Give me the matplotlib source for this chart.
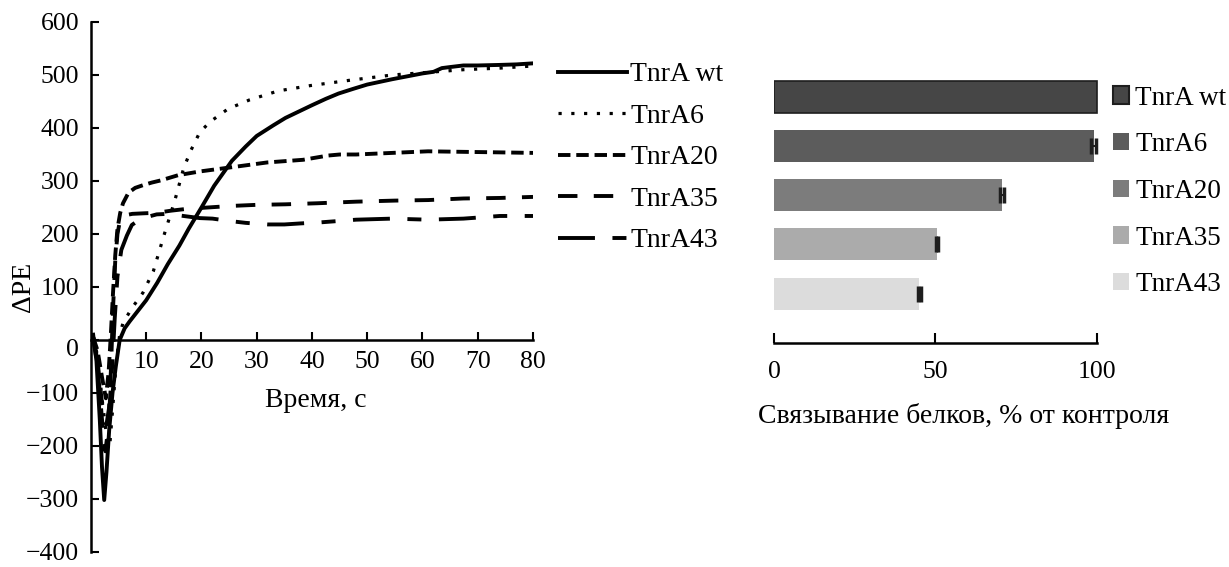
import numpy as np
import matplotlib.pyplot as plt
from matplotlib.patches import Patch
from matplotlib.transforms import ScaledTranslation

plt.rcParams['font.family'] = ['Liberation Serif', 'DejaVu Serif']
plt.rcParams['font.size'] = 18.5

# kinetic curves
t_wt = [0.4, 1.0, 1.6, 2.0, 2.4, 2.8, 3.3, 3.9, 4.5, 5.2, 6.1, 7.0, 8.5, 10, 12, 13.9, 16, 17.7, 20, 22.3,
        25.5, 28, 30, 33, 35.2, 38, 40, 42.5, 44.8, 47.5, 50, 54.5, 57, 60, 62, 63.5, 65, 67.4, 70, 73.9, 77, 80]
pe_wt = [10, -40, -150, -240, -302, -250, -170, -100, -50, 0, 22, 35, 55, 75, 108, 143, 178, 210, 250, 291,
         338, 365, 385, 405, 419, 433, 443, 455, 465, 474, 482, 492, 497, 503, 506, 513, 515, 518, 518, 519, 520, 522]

t_6 = [0.4, 1.2, 2.0, 2.8, 3.4, 4.0, 4.6, 5.2, 5.8, 7.4, 9.4, 11.3, 13.2, 15.2, 16.8, 18.1, 19.7, 21.6,
       24.8, 28.7, 33.9, 39.7, 46.8, 54.5, 61, 67.4, 74, 80]
pe_6 = [5, -30, -110, -180, -200, -120, -40, 10, 32, 60, 89, 130, 197, 264, 325, 358, 392, 412,
        436, 453, 470, 480, 490, 500, 505, 510, 513, 517]

t_20 = [0.4, 1.2, 2.0, 2.7, 3.2, 3.6, 4.0, 4.4, 4.8, 5.3, 5.8, 6.8, 8, 9.4, 11, 12.6, 15.8, 19.7, 25.5,
        31.9, 38.4, 42.9, 45, 48, 54.5, 61, 67.4, 74, 80]
pe_20 = [5, -20, -70, -110, -60, 10, 90, 160, 210, 240, 258, 278, 287, 292, 297, 301, 311, 318, 326,
         335, 340, 348, 350, 350, 353, 356, 355, 354, 353]

t_35 = [0.4, 1.2, 2.0, 2.6, 3.1, 3.6, 4.0, 4.4, 4.8, 5.3, 6.0, 7.5, 9.5, 11.9, 14.5, 17, 19.7, 25.5,
        30, 35.2, 41, 48, 55, 61, 67.4, 74, 80]
pe_35 = [5, -50, -150, -210, -170, -60, 60, 150, 200, 228, 235, 238, 239, 240, 244, 247, 249, 253,
         255, 256, 258, 261, 263, 264, 267, 268, 270]

t_43 = [0.4, 1.2, 2.0, 2.8, 3.4, 3.9, 4.3, 4.8, 5.5, 6.5, 7.4, 8.5, 9.4, 11.9, 13.9, 16, 19.7, 22, 25.5,
        28, 32, 35, 38, 41.6, 48, 54.5, 61, 67.4, 74, 80]
pe_43 = [5, -40, -120, -160, -120, -40, 40, 120, 170, 197, 217, 225, 230, 237, 238, 235, 230, 229, 224,
         221, 218, 218, 220, 222, 227, 229, 227, 229, 234, 234]

names = ['TnrA wt', 'TnrA6', 'TnrA20', 'TnrA35', 'TnrA43']

# binding, % of control
binding = [100, 99, 70.5, 50.5, 45]
binding_err = [0, 0.7, 0.6, 0.4, 0.4]
bar_colors = ['#464646', '#5c5c5c', '#7c7c7c', '#ababab', '#dcdcdc']

fig = plt.figure(figsize=(12.29, 5.67), dpi=100)

# ---- left panel: kinetics ----
ax1 = fig.add_axes([0.074, 0.0265, 0.3597, 0.9347])
styles = ['-', (0, (1, 3)), (0, (3.2, 1.5)), (0, (5, 4.2)), (0, (9.5, 4.5, 3.6, 4.5))]
widths = [2.8, 2.3, 2.8, 2.8, 2.8]
series = [(t_wt, pe_wt), (t_6, pe_6), (t_20, pe_20), (t_35, pe_35), (t_43, pe_43)]
lines = []
for (t, v), ls, lw, nm in zip(series, styles, widths, names):
    ln, = ax1.plot(t, v, color='black', lw=lw, ls=ls, label=nm)
    lines.append(ln)

ax1.set_xlim(0, 80)
ax1.set_ylim(-400, 600)
ax1.spines['top'].set_visible(False)
ax1.spines['right'].set_visible(False)
ax1.spines['bottom'].set_position(('data', 0))
for s in ['left', 'bottom']:
    ax1.spines[s].set_linewidth(1.8)
ax1.set_xticks(range(10, 81, 10))
ax1.set_yticks(range(-400, 601, 100))
ax1.tick_params(axis='both', direction='in', width=1.5, length=6)
ax1.tick_params(axis='x', pad=8)
ax1.tick_params(axis='y', pad=8.5)
# the "0" label sits a bit below the x axis line
zero_lab = ax1.yaxis.get_major_ticks()[4].label1
zero_lab.set_transform(zero_lab.get_transform() + ScaledTranslation(0, -8 / 100, fig.dpi_scale_trans))
ax1.set_xlabel('Время, с', fontsize=20)
ax1.xaxis.set_label_coords(0.509, 0.31)
ax1.set_ylabel('ΔPE', fontsize=20)
ax1.yaxis.set_label_coords(-0.124, 0.5)

fig.legend(handles=lines, loc='upper left', bbox_to_anchor=(0.454, 0.891), frameon=False,
           fontsize=20, handlelength=2.5, handletextpad=0.1, labelspacing=0.58,
           borderpad=0, borderaxespad=0)

# ---- right panel: binding ----
ax2 = fig.add_axes([0.6298, 0.395, 0.2653, 0.4956])
pos = np.arange(len(names))
edges = ['#1e1e1e', 'none', 'none', 'none', 'none']
ax2.barh(pos, binding, height=0.65, color=bar_colors, edgecolor=edges, linewidth=1.2)
ax2.errorbar(binding[1:], pos[1:], xerr=binding_err[1:], fmt='none', ecolor='#1e1e1e',
             elinewidth=1.5, capsize=6, capthick=2.5)
ax2.set_xlim(0, 101)
ax2.set_ylim(5.0, -0.7)
for s in ['top', 'right', 'left']:
    ax2.spines[s].set_visible(False)
ax2.spines['bottom'].set_bounds(0, 100)
ax2.spines['bottom'].set_linewidth(1.8)
ax2.set_yticks([])
ax2.set_xticks([0, 50, 100])
ax2.tick_params(axis='x', direction='in', width=1.5, length=7, pad=13)
ax2.set_xlabel('Связывание белков, % от контроля', fontsize=20)
ax2.xaxis.set_label_coords(0.58, -0.215)

handles = [Patch(facecolor=c, edgecolor=e, linewidth=1.5) for c, e in zip(bar_colors, edges)]
fig.legend(handles=handles, labels=names, loc='upper left', bbox_to_anchor=(0.9056, 0.849),
           frameon=False, fontsize=19.5, handlelength=0.6, handleheight=0.6, handletextpad=0.22,
           labelspacing=0.8, borderpad=0, borderaxespad=0)

fig.savefig('out.png', dpi=100)
